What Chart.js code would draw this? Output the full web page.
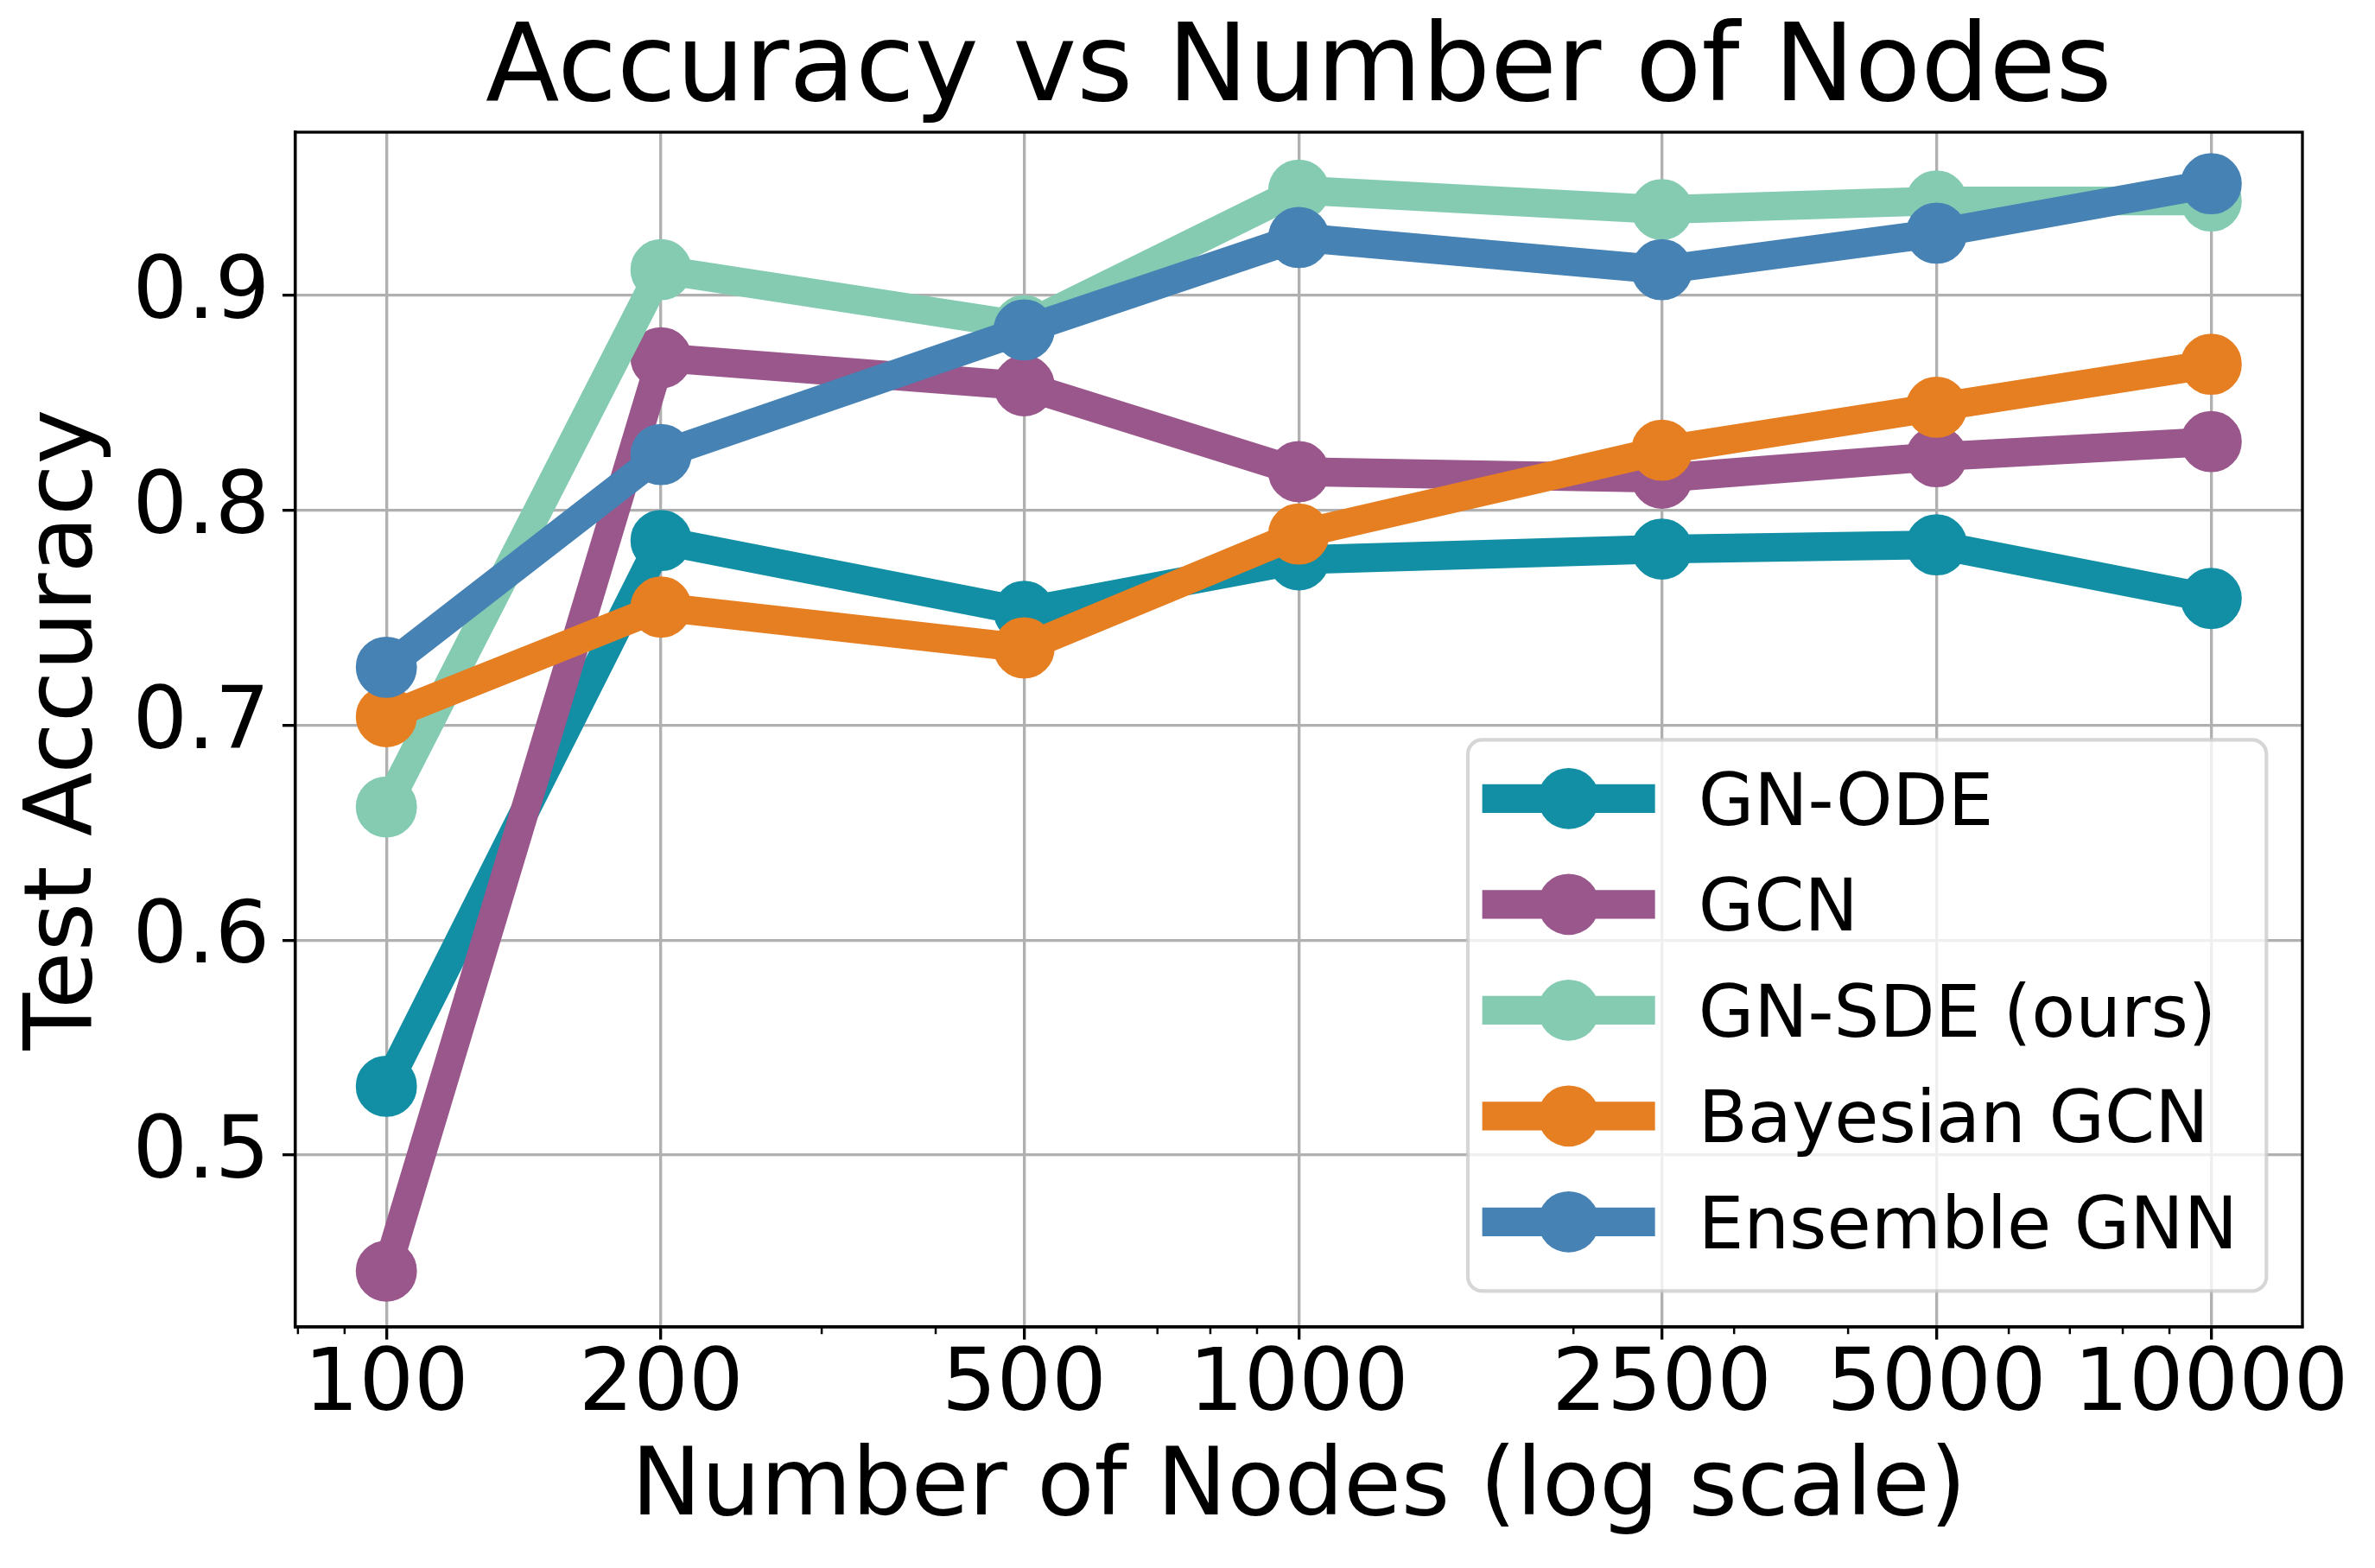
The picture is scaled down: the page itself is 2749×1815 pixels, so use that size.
<!DOCTYPE html>
<html><head><meta charset="utf-8">
<script src="https://cdn.jsdelivr.net/npm/chart.js@4.4.1/dist/chart.umd.min.js"></script>
<style>html,body{margin:0;padding:0;background:#fff;}canvas{display:block;}</style>
</head><body>
<canvas id="c" width="2749" height="1815" style="width:2749px;height:1815px"></canvas>
<script>
// ---- data ----
const nodeCounts = [100, 200, 500, 1000, 2500, 5000, 10000];
const seriesNames = ['GN-ODE', 'GCN', 'GN-SDE (ours)', 'Bayesian GCN', 'Ensemble GNN'];
const gnOde       = [0.532, 0.786, 0.753, 0.777, 0.782, 0.784, 0.759];
const gcn         = [0.446, 0.871, 0.858, 0.818, 0.815, 0.825, 0.832];
const gnSde       = [0.662, 0.912, 0.886, 0.949, 0.940, 0.944, 0.944];
const bayesianGcn = [0.704, 0.755, 0.736, 0.789, 0.828, 0.848, 0.868];
const ensembleGnn = [0.727, 0.826, 0.884, 0.927, 0.912, 0.929, 0.952];
const xTickValues = [100, 200, 500, 1000, 2500, 5000, 10000];
const xMinorTickValues = [80, 90, 300, 400, 600, 700, 800, 900, 2000, 3000, 4000, 6000, 7000, 8000, 9000];
const yTickValues = [0.5, 0.6, 0.7, 0.8, 0.9];
const seriesColors = ['#128ea5', '#9a578b', '#84cbb2', '#e67e22', '#4682b4'];

// ---- style ----
const FONT = "'DejaVu Sans', 'Liberation Sans', sans-serif";
const PT = 300 / 72;
const allSeries = [gnOde, gcn, gnSde, bayesianGcn, ensembleGnn];

const datasets = allSeries.map((vals, i) => ({
  label: seriesNames[i],
  data: nodeCounts.map((x, j) => ({ x: x, y: vals[j] })),
  borderColor: seriesColors[i],
  backgroundColor: seriesColors[i],
  pointBackgroundColor: seriesColors[i],
  pointBorderColor: seriesColors[i],
  borderWidth: 8 * PT,
  pointRadius: 8 * PT,
  pointBorderWidth: 1 * PT,
  pointHoverRadius: 8 * PT,
  borderCapStyle: 'square',
  borderJoinStyle: 'round',
  tension: 0,
  fill: false,
  order: allSeries.length - 1 - i
}));

const framePlugin = {
  id: 'mplFrame',
  afterDatasetsDraw(chart) {
    const ctx = chart.ctx, a = chart.chartArea;
    ctx.save();
    ctx.strokeStyle = '#000';
    ctx.lineWidth = 0.8 * PT;
    ctx.strokeRect(a.left, a.top, a.right - a.left, a.bottom - a.top);
    // minor ticks on log x axis
    const xs = chart.scales.x;
    ctx.lineWidth = 0.6 * PT;
    ctx.beginPath();
    xMinorTickValues.forEach(v => {
      const px = xs.getPixelForValue(v);
      if (px >= a.left && px <= a.right) {
        ctx.moveTo(px, a.bottom);
        ctx.lineTo(px, a.bottom + 2 * PT);
      }
    });
    ctx.stroke();
    ctx.restore();
  }
};

const legendPlugin = {
  id: 'mplLegend',
  afterDraw(chart) {
    const ctx = chart.ctx, a = chart.chartArea;
    const fs = 20 * PT;
    ctx.save();
    ctx.font = fs + 'px ' + FONT;
    const ds = chart.data.datasets;
    let maxW = 0;
    ds.forEach(d => { maxW = Math.max(maxW, ctx.measureText(d.label).width); });
    const borderPad = 0.4 * fs, handleLen = 2 * fs, textPad = 0.8 * fs;
    const w = borderPad + handleLen + textPad + maxW + borderPad;
    const h = 638;
    const right = a.right - 0.5 * fs, bottom = a.bottom - 0.5 * fs;
    const left = right - w, top = bottom - h;
    const r = 0.2 * fs;
    ctx.beginPath();
    ctx.roundRect(left, top, w, h, r);
    ctx.fillStyle = 'rgba(255,255,255,0.8)';
    ctx.fill();
    ctx.strokeStyle = 'rgba(204,204,204,0.8)';
    ctx.lineWidth = 1 * PT;
    ctx.stroke();
    ds.forEach((d, i) => {
      const cy = top + 68 + i * 122.5;
      const x0 = left + borderPad, x1 = x0 + handleLen;
      ctx.strokeStyle = d.borderColor;
      ctx.lineWidth = d.borderWidth;
      ctx.lineCap = 'square';
      ctx.beginPath();
      ctx.moveTo(x0, cy); ctx.lineTo(x1, cy);
      ctx.stroke();
      ctx.beginPath();
      ctx.arc((x0 + x1) / 2, cy, d.pointRadius + d.pointBorderWidth / 2, 0, Math.PI * 2);
      ctx.fillStyle = d.borderColor;
      ctx.fill();
      ctx.fillStyle = '#000';
      ctx.textBaseline = 'alphabetic';
      ctx.textAlign = 'left';
      ctx.fillText(d.label, x1 + textPad, cy + 0.365 * fs);
    });
    ctx.restore();
  }
};

new Chart(document.getElementById('c'), {
  type: 'line',
  data: { datasets: datasets },
  plugins: [framePlugin, legendPlugin],
  options: {
    responsive: false,
    devicePixelRatio: 1,
    animation: false,
    events: [],
    layout: { padding: { left: 0, right: 84, top: 0, bottom: 0 } },
    plugins: {
      legend: { display: false },
      tooltip: { enabled: false },
      title: {
        display: true,
        text: 'Accuracy vs Number of Nodes',
        fullSize: false,
        color: '#000',
        font: { family: FONT, size: 30 * PT, weight: 'normal', lineHeight: 1 },
        padding: { top: 21, bottom: 7 }
      }
    },
    scales: {
      x: {
        type: 'logarithmic',
        bounds: 'data',
        min: Math.pow(10, 1.9),
        max: Math.pow(10, 4.1),
        afterBuildTicks: (s) => { s.ticks = xTickValues.map(v => ({ value: v })); },
        afterFit: (s) => { s.height = 279; s.paddingLeft = 0; s.paddingRight = 0; },
        ticks: {
          autoSkip: false, maxRotation: 0, minRotation: 0,
          color: '#000', padding: 5,
          font: { family: FONT, size: 24 * PT, lineHeight: 1 },
          callback: (v) => String(v)
        },
        grid: { color: '#b0b0b0', lineWidth: 0.8 * PT, drawTicks: true, tickLength: 3.5 * PT, tickColor: '#000', tickWidth: 0.8 * PT },
        border: { display: true, color: '#000', width: 0.8 * PT },
        title: {
          display: true, text: 'Number of Nodes (log scale)', color: '#000',
          font: { family: FONT, size: 26 * PT, lineHeight: 1.2 },
          padding: { top: 0, bottom: 25.6 }
        }
      },
      y: {
        type: 'linear',
        bounds: 'data',
        min: 0.42,
        max: 0.976,
        afterBuildTicks: (s) => { s.ticks = yTickValues.map(v => ({ value: v })); },
        afterFit: (s) => { s.width = 341.6; s.paddingTop = 0; s.paddingBottom = 0; },
        ticks: {
          color: '#000', padding: 3.5 * PT,
          font: { family: FONT, size: 24 * PT, lineHeight: 1 },
          callback: (v) => Number(v).toFixed(1)
        },
        grid: { color: '#b0b0b0', lineWidth: 0.8 * PT, drawTicks: true, tickLength: 3.5 * PT, tickColor: '#000', tickWidth: 0.8 * PT },
        border: { display: true, color: '#000', width: 0.8 * PT },
        title: {
          display: true, text: 'Test Accuracy', color: '#000',
          font: { family: FONT, size: 26 * PT, lineHeight: 1.2 },
          padding: { top: 12, bottom: 0 }
        }
      }
    }
  }
});
</script>
</body></html>
